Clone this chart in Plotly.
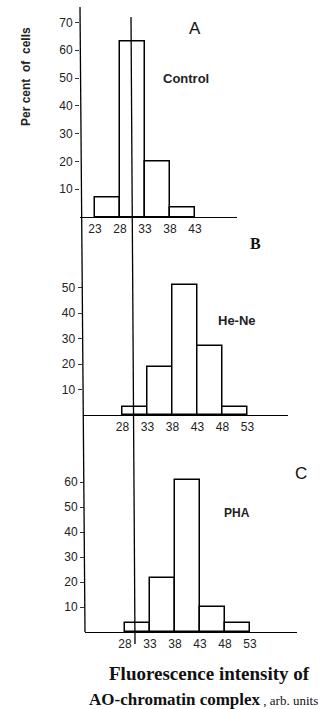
import plotly.graph_objects as go

W, H = 334, 709

# ---- data ----
A_edges = [23, 28, 33, 38, 43]
A_vals = [7, 63, 20, 3.5]
B_edges = [28, 33, 38, 43, 48, 53]
B_vals = [3, 19, 51, 27, 3]
C_edges = [28, 33, 38, 43, 48, 53]
C_vals = [3.5, 21.5, 61, 10, 3.5]
A_yticks = [10, 20, 30, 40, 50, 60, 70]
B_yticks = [10, 20, 30, 40, 50]
C_yticks = [10, 20, 30, 40, 50, 60]

def px(x):
    return x / W

def py(y):
    return 1 - y / H

def centers(edges):
    return [(a + b) / 2 for a, b in zip(edges[:-1], edges[1:])]

def widths(edges):
    return [b - a for a, b in zip(edges[:-1], edges[1:])]

fig = go.Figure()
panels = [
    (A_edges, A_vals, "x", "y"),
    (B_edges, B_vals, "x2", "y2"),
    (C_edges, C_vals, "x3", "y3"),
]
for edges, vals, xa, ya in panels:
    fig.add_trace(go.Bar(
        x=centers(edges), y=vals, width=widths(edges),
        marker=dict(color="white", line=dict(color="black", width=1.5)),
        xaxis=xa, yaxis=ya, showlegend=False, hoverinfo="skip",
    ))

tickfont = dict(family="Liberation Sans, Arial, sans-serif", size=12, color="#222")

# pixel geometry: (left, right, bottom, ymax, px_per_unit)
geo = {
    "1": (80, 236.7, 217, 75, 2.78, A_edges, A_yticks),
    "2": (82.5, 288, 415, 60, 2.55, B_edges, B_yticks),
    "3": (85, 296.7, 632, 70, 2.5, C_edges, C_yticks),
}
xscale = 5.0
for k, (l, r, b, ymax, s, edges, yt) in geo.items():
    xn = "xaxis" if k == "1" else "xaxis" + k
    yn = "yaxis" if k == "1" else "yaxis" + k
    top = b - ymax * s
    fig.layout[xn] = dict(
        domain=[px(l), px(r)], range=[20, 20 + (r - l) / xscale],
        anchor="y" if k == "1" else "y" + k,
        showline=True, linecolor="black", linewidth=1.3,
        showgrid=False, zeroline=False, ticks="",
        tickvals=edges, ticktext=[str(e) for e in edges],
        tickfont=tickfont, fixedrange=True,
    )
    fig.layout[yn] = dict(
        domain=[py(b), py(top)], range=[0, ymax],
        anchor="x" if k == "1" else "x" + k,
        showline=False, showgrid=False, zeroline=False,
        ticks="outside", ticklen=4, tickwidth=1, tickcolor="#333",
        tickvals=yt, tickfont=tickfont, fixedrange=True,
    )

shapes = [
    # long y axis line through all panels
    dict(type="line", xref="paper", yref="paper",
         x0=px(80), y0=py(7), x1=px(85), y1=py(632),
         line=dict(color="black", width=1.3)),
    # long vertical reference line
    dict(type="line", xref="paper", yref="paper",
         x0=px(131), y0=py(17), x1=px(135), y1=py(644),
         line=dict(color="black", width=1.3)),
]

sans_b = "Liberation Sans, Arial, sans-serif"
serif = "Liberation Serif, Times New Roman, serif"
ann = [
    dict(text="A", x=px(195), y=py(28), font=dict(family=sans_b, size=17, color="#111")),
    dict(text="<b>Control</b>", x=px(186), y=py(78), font=dict(family=sans_b, size=13, color="#222")),
    dict(text="<b>B</b>", x=px(255), y=py(243), font=dict(family=serif, size=16, color="#111")),
    dict(text="<b>He-Ne</b>", x=px(237), y=py(320), font=dict(family=sans_b, size=13, color="#222")),
    dict(text="C", x=px(301), y=py(473), font=dict(family=sans_b, size=17, color="#111")),
    dict(text="<b>PHA</b>", x=px(237), y=py(513), font=dict(family=sans_b, size=12, color="#222")),
    dict(text="<b>Per cent  of  cells</b>", x=px(26), y=py(77), textangle=-90,
         font=dict(family=sans_b, size=12, color="#222")),
    dict(text="<b>Fluorescence intensity of</b>", x=px(209), y=py(673),
         font=dict(family=serif, size=19, color="#111")),
    dict(text="<b>AO-chromatin complex</b><span style='font-size:13px'> , arb. units</span>",
         x=px(203), y=py(699), font=dict(family=serif, size=17, color="#111")),
]
for a in ann:
    a.update(xref="paper", yref="paper", showarrow=False, xanchor="center", yanchor="middle")

fig.update_layout(
    width=W, height=H, margin=dict(l=0, r=0, t=0, b=0),
    paper_bgcolor="white", plot_bgcolor="white",
    shapes=shapes, annotations=ann, bargap=0,
)

fig.write_html("out.html", config={"displayModeBar": False},
               post_script="document.body.style.margin='0px';document.body.style.padding='0px';")
